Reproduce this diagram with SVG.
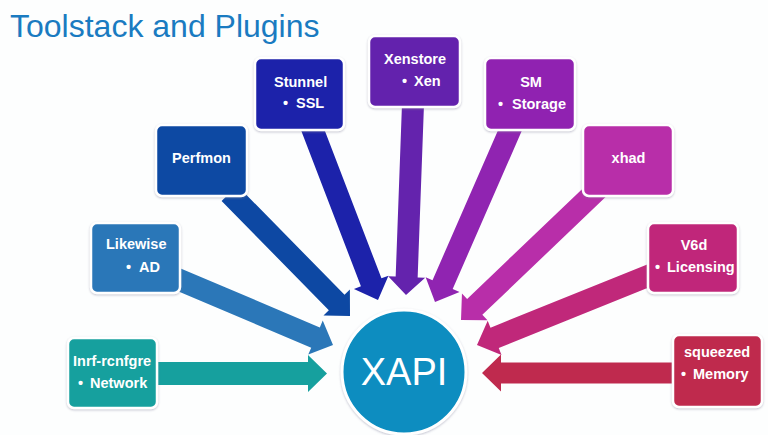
<svg xmlns="http://www.w3.org/2000/svg" width="768" height="435" viewBox="0 0 768 435">
  <defs>
    <filter id="sh" x="-20%" y="-20%" width="140%" height="140%">
      <feDropShadow dx="0" dy="1" stdDeviation="1.2" flood-color="#7a7a99" flood-opacity="0.45"/>
    </filter>
  </defs>
  <style>
    .title { font-family: "Liberation Sans", Arial, sans-serif; font-size: 32px; fill: #1a7bc1; }
    .box { stroke: #ffffff; stroke-width: 2.5; filter: url(#sh); }
    .lbl { font-family: "Liberation Sans", Arial, sans-serif; font-size: 14.5px; font-weight: bold; fill: #ffffff; }
    .mid { text-anchor: middle; }
    .xapi { font-family: "Liberation Sans", Arial, sans-serif; font-size: 38px; fill: #ffffff; text-anchor: middle; }
  </style>
  <rect width="768" height="435" fill="#fdfefe"/>
  <text class="title" x="10" y="37">Toolstack and Plugins</text>

  <g id="connectors">
    <path fill="#16a09e" transform="translate(327,373.5) rotate(0)" d="M0,0 L-19,-18.5 L-19,-11.5 L-175,-11.5 L-175,11.5 L-19,11.5 L-19,18.5 Z"/>
    <path fill="#2b77b8" transform="translate(333,345) rotate(23)" d="M0,0 L-19,-18.5 L-19,-11 L-174,-11 L-174,11 L-19,11 L-19,18.5 Z"/>
    <path fill="#0d48a3" transform="translate(350,316) rotate(45.5)" d="M0,0 L-19,-18.5 L-19,-11 L-172,-11 L-172,11 L-19,11 L-19,18.5 Z"/>
    <path fill="#1c22aa" transform="translate(378,300) rotate(69)" d="M0,0 L-19,-18.5 L-19,-11 L-189,-11 L-189,11 L-19,11 L-19,18.5 Z"/>
    <path fill="#6423ad" transform="translate(406,295) rotate(92.1)" d="M0,0 L-18,-18.5 L-18,-11 L-196,-11 L-196,11 L-18,11 L-18,18.5 Z"/>
    <path fill="#9024b1" transform="translate(435,302) rotate(113.6)" d="M0,0 L-19,-18.5 L-19,-11 L-196,-11 L-196,11 L-19,11 L-19,18.5 Z"/>
    <path fill="#b82ea9" transform="translate(461,320) rotate(136.3)" d="M0,0 L-19,-18.5 L-19,-11 L-192,-11 L-192,11 L-19,11 L-19,18.5 Z"/>
    <path fill="#c0287a" transform="translate(477,345) rotate(158)" d="M0,0 L-19,-18.5 L-19,-11 L-192,-11 L-192,11 L-19,11 L-19,18.5 Z"/>
    <path fill="#bf2a4e" transform="translate(482,373) rotate(180)" d="M0,0 L-19,-18.5 L-19,-10.5 L-199,-10.5 L-199,10.5 L-19,10.5 L-19,18.5 Z"/>
  </g>

  <g id="inrf">
    <rect class="box" x="68" y="338" width="89" height="70" rx="6" fill="#16a09e"/>
    <text class="lbl" x="73" y="366">Inrf-rcnfgre</text>
    <text class="lbl" y="388"><tspan x="78">•</tspan><tspan x="90">Network</tspan></text>
  </g>
  <g id="likewise">
    <rect class="box" x="91" y="223" width="89" height="70" rx="6" fill="#2b77b8"/>
    <text class="lbl" x="106" y="249">Likewise</text>
    <text class="lbl" y="272"><tspan x="126">•</tspan><tspan x="139">AD</tspan></text>
  </g>
  <g id="perfmon">
    <rect class="box" x="156" y="125" width="91" height="71" rx="6" fill="#0d48a3"/>
    <text class="lbl mid" x="201.5" y="163">Perfmon</text>
  </g>
  <g id="stunnel">
    <rect class="box" x="255" y="58" width="89" height="72" rx="6" fill="#1c22aa"/>
    <text class="lbl" x="274" y="87">Stunnel</text>
    <text class="lbl" y="108"><tspan x="283">•</tspan><tspan x="296">SSL</tspan></text>
  </g>
  <g id="xenstore">
    <rect class="box" x="369" y="36" width="91" height="71" rx="6" fill="#6423ad"/>
    <text class="lbl" x="384" y="64">Xenstore</text>
    <text class="lbl" y="86"><tspan x="402">•</tspan><tspan x="414">Xen</tspan></text>
  </g>
  <g id="sm">
    <rect class="box" x="485" y="58" width="90" height="72" rx="6" fill="#9024b1"/>
    <text class="lbl mid" x="531" y="87">SM</text>
    <text class="lbl" y="109"><tspan x="498">•</tspan><tspan x="512">Storage</tspan></text>
  </g>
  <g id="xhad">
    <rect class="box" x="583" y="125" width="90" height="71" rx="6" fill="#b82ea9"/>
    <text class="lbl mid" x="628.5" y="163">xhad</text>
  </g>
  <g id="v6d">
    <rect class="box" x="648" y="223" width="90" height="70" rx="6" fill="#c0287a"/>
    <text class="lbl mid" x="694" y="250">V6d</text>
    <text class="lbl" y="272"><tspan x="655">•</tspan><tspan x="667">Licensing</tspan></text>
  </g>
  <g id="squeezed">
    <rect class="box" x="673" y="335" width="89" height="72" rx="6" fill="#bf2a4e"/>
    <text class="lbl" x="684" y="357">squeezed</text>
    <text class="lbl" y="379"><tspan x="681">•</tspan><tspan x="693">Memory</tspan></text>
  </g>
  <g id="xapi">
    <circle cx="404" cy="372" r="62" fill="#0a8dc0" stroke="#ffffff" stroke-width="3" filter="url(#sh)"/>
    <text class="xapi" x="404" y="385">XAPI</text>
  </g>
</svg>
